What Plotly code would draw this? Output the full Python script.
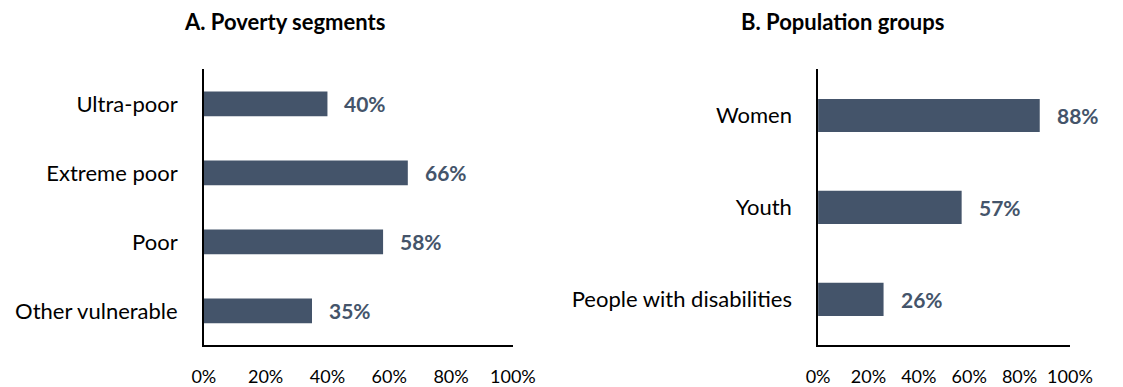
import plotly.graph_objects as go

# Panel A data
poverty_segments = ["Ultra-poor", "Extreme poor", "Poor", "Other vulnerable"]
poverty_values = [40, 66, 58, 35]

# Panel B data
population_groups = ["Women", "Youth", "People with disabilities"]
population_values = [88, 57, 26]

x_ticks = [0, 20, 40, 60, 80, 100]
title_a = "A. Poverty segments"
title_b = "B. Population groups"

BAR = "#44546A"
FONT = "Lato, Calibri, Carlito, sans-serif"
W, H = 1123, 387

fig = go.Figure()
fig.add_trace(go.Bar(
    x=poverty_values, y=poverty_segments, orientation="h",
    marker=dict(color=BAR, line=dict(width=0)), width=0.36,
    xaxis="x", yaxis="y", showlegend=False, hoverinfo="x+y"))
fig.add_trace(go.Bar(
    x=population_values, y=population_groups, orientation="h",
    marker=dict(color=BAR, line=dict(width=0)), width=0.36,
    xaxis="x2", yaxis="y2", showlegend=False, hoverinfo="x+y"))

annotations = []
for cat, v in zip(poverty_segments, poverty_values):
    annotations.append(dict(x=v, y=cat, xref="x", yref="y", text=f"{v}%",
                            showarrow=False, xanchor="left", xshift=15,
                            font=dict(family=FONT, size=21, color=BAR, weight="bold")))
for cat, v in zip(population_groups, population_values):
    annotations.append(dict(x=v, y=cat, xref="x2", yref="y2", text=f"{v}%",
                            showarrow=False, xanchor="left", xshift=15,
                            font=dict(family=FONT, size=21, color=BAR, weight="bold")))

annotations.append(dict(x=281 / W, y=(H - 22) / H, xref="paper", yref="paper",
                        text=f"<b>{title_a}</b>", showarrow=False,
                        xanchor="center", yanchor="middle",
                        font=dict(family=FONT, size=22, color="#000000")))
annotations.append(dict(x=857 / W, y=(H - 22) / H, xref="paper", yref="paper",
                        text=f"<b>{title_b}</b>", showarrow=False,
                        xanchor="center", yanchor="middle",
                        font=dict(family=FONT, size=22, color="#000000")))

ydom = [(H - 348) / H, (H - 70) / H]
xcommon = dict(range=[0, 100], tickvals=x_ticks, ticktext=[f"{t}%" for t in x_ticks],
               showgrid=False, zeroline=False, showline=True, linecolor="#000000",
               linewidth=1.5, ticks="", ticklabelstandoff=14,
               tickfont=dict(family=FONT, size=18, color="#000000"), fixedrange=True)
ycommon = dict(showgrid=False, zeroline=False, showline=True, linecolor="#000000",
               linewidth=1.5, ticks="", ticklabelstandoff=20, type="category",
               tickfont=dict(family=FONT, size=22, color="#000000"), fixedrange=True)

fig.update_layout(
    width=W, height=H, autosize=False,
    margin=dict(l=0, r=0, t=0, b=0),
    paper_bgcolor="#ffffff", plot_bgcolor="#ffffff",
    xaxis=dict(domain=[198 / W, 517 / W], anchor="y", **xcommon),
    yaxis=dict(domain=ydom, anchor="x", range=[3.5, -0.5],
               categoryorder="array", categoryarray=poverty_segments, **ycommon),
    xaxis2=dict(domain=[832 / W, 1092 / W], anchor="y2", **xcommon),
    yaxis2=dict(domain=ydom, anchor="x2", range=[2.5, -0.5],
                categoryorder="array", categoryarray=population_groups, **ycommon),
    annotations=annotations,
    bargap=0.64,
)

fig.write_html(
    "out.html",
    config={"displayModeBar": False, "responsive": False},
    post_script="document.body.style.margin='0';document.body.style.overflow='hidden';",
)
